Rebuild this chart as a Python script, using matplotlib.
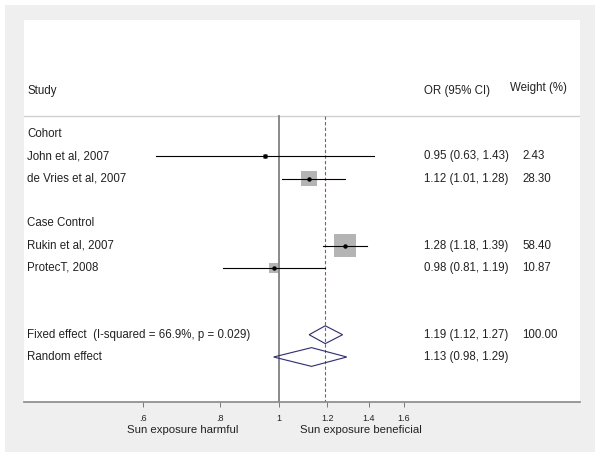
import matplotlib.pyplot as plt
import matplotlib.patches as mpatches
from matplotlib.transforms import blended_transform_factory
import numpy as np

plt.rcParams['font.family'] = ['Liberation Sans', 'DejaVu Sans']

# study data
studies = ["John et al, 2007", "de Vries et al, 2007", "Rukin et al, 2007", "ProtecT, 2008"]
study_rows = [1, 2, 5, 6]
or_vals = [0.95, 1.12, 1.28, 0.98]
ci_low = [0.63, 1.01, 1.18, 0.81]
ci_high = [1.43, 1.28, 1.39, 1.19]
weights = [2.43, 28.30, 58.40, 10.87]

groups = ["Cohort", "Case Control"]
group_rows = [0, 4]

pooled = ["Fixed effect  (I-squared = 66.9%, p = 0.029)", "Random effect"]
pooled_rows = [9, 10]
pooled_or = [1.19, 1.13]
pooled_low = [1.12, 0.98]
pooled_high = [1.27, 1.29]
pooled_weight = ["100.00", ""]

ticks = [0.6, 0.8, 1.0, 1.2, 1.4, 1.6]
tick_labels = [".6", ".8", "1", "1.2", "1.4", "1.6"]

W, H = 601, 458
fig = plt.figure(figsize=(W / 100, H / 100), dpi=100)
fig.patch.set_facecolor('white')

# outer gray box (background axes)
bg = fig.add_axes([5 / W, 1 - 452 / H, 590 / W, 447 / H], zorder=-1)
bg.set_facecolor('#efefef')
bg.set_xticks([])
bg.set_yticks([])
for s in bg.spines.values():
    s.set_visible(False)

# main axes = white inner panel (pixel 24..580 x, 20..402 y)
x0, x1, y0, y1 = 24, 580, 20, 402
ax = fig.add_axes([x0 / W, 1 - y1 / H, (x1 - x0) / W, (y1 - y0) / H], zorder=1)
ax.set_facecolor('white')

# log scale: 1.0 at pixel 279, 266 px per ln unit
px_ln = 266.0
ax.set_xscale('log')
ax.set_xlim(np.exp((x0 - 279) / px_ln), np.exp((x1 - 279) / px_ln))
# rows: row 0 at pixel 134, 22.3 px per row
row_px = 22.3
ax.set_ylim((y1 - 134) / row_px, (y0 - 134) / row_px)
for s in ['top', 'left', 'right']:
    ax.spines[s].set_visible(False)
ax.spines['bottom'].set_color('#888888')
ax.spines['bottom'].set_linewidth(1.2)
ax.set_yticks([])
ax.set_xticks(ticks)
ax.set_xticks([], minor=True)
ax.set_xticklabels(tick_labels, fontsize=6.5, color='#222222')
ax.tick_params(axis='x', length=3.5, width=0.6, color='#666666', pad=5)

header_y = (116 - 134) / row_px
ax.axhline(header_y, color='#d0d0d0', lw=1.0)

bottom_y = (y1 - 134) / row_px
ax.plot([1, 1], [header_y, bottom_y], color='#808080', lw=1.3, zorder=2)
ax.plot([pooled_or[0]] * 2, [header_y, bottom_y], color='#a0505a', lw=0.8,
        dashes=(3, 2), zorder=2)

# squares, CI lines and points
sizes = [(0.72 * 2.88) ** 2 * w for w in weights]
ax.scatter(or_vals, study_rows, s=sizes, marker='s', color='#b4b4b4', zorder=3, linewidths=0)
for r, lo, hi in zip(study_rows, ci_low, ci_high):
    ax.plot([lo, hi], [r, r], color='black', lw=0.8, zorder=4)
ax.plot(or_vals, study_rows, 'o', color='black', ms=2.2, zorder=5)

# diamonds
half_h = [0.40, 0.42]
for r, m, lo, hi, hh in zip(pooled_rows, pooled_or, pooled_low, pooled_high, half_h):
    poly = mpatches.Polygon([[lo, r], [m, r - hh], [hi, r], [m, r + hh]], closed=True,
                            facecolor='none', edgecolor='#2a2a80', lw=0.8, zorder=4)
    ax.add_patch(poly)

# text columns
def tx(xpix):
    return (xpix - x0) / (x1 - x0)

tr = blended_transform_factory(ax.transAxes, ax.transData)
fs = 8.3
tc = '#222222'
ax.text(tx(27), (91 - 134) / row_px, "Study", transform=tr, fontsize=fs, va='center', color=tc)
ax.text(tx(424), (91 - 134) / row_px, "OR (95% CI)", transform=tr, fontsize=fs, va='center', color=tc)
ax.text(tx(510), (88 - 134) / row_px, "Weight (%)", transform=tr, fontsize=fs, va='center', color=tc)

for g, r in zip(groups, group_rows):
    ax.text(tx(27), r, g, transform=tr, fontsize=fs, va='center', color=tc)
for i, name in enumerate(studies):
    r = study_rows[i]
    ax.text(tx(27), r, name, transform=tr, fontsize=fs, va='center', color=tc)
    ax.text(tx(424), r, "%.2f (%.2f, %.2f)" % (or_vals[i], ci_low[i], ci_high[i]),
            transform=tr, fontsize=fs, va='center', color=tc)
    ax.text(tx(522), r, "%.2f" % weights[i], transform=tr, fontsize=fs, va='center', color=tc)
for i, name in enumerate(pooled):
    r = pooled_rows[i]
    ax.text(tx(27), r, name, transform=tr, fontsize=fs, va='center', color=tc)
    ax.text(tx(424), r, "%.2f (%.2f, %.2f)" % (pooled_or[i], pooled_low[i], pooled_high[i]),
            transform=tr, fontsize=fs, va='center', color=tc)
    ax.text(tx(522), r, pooled_weight[i], transform=tr, fontsize=fs, va='center', color=tc)

# axis captions
fig.text(183 / W, 1 - 430 / H, "Sun exposure harmful", ha='center', va='center', fontsize=8.2, color=tc)
fig.text(361 / W, 1 - 430 / H, "Sun exposure beneficial", ha='center', va='center', fontsize=8.2, color=tc)

fig.savefig("out.png", dpi=100, facecolor=fig.get_facecolor())
